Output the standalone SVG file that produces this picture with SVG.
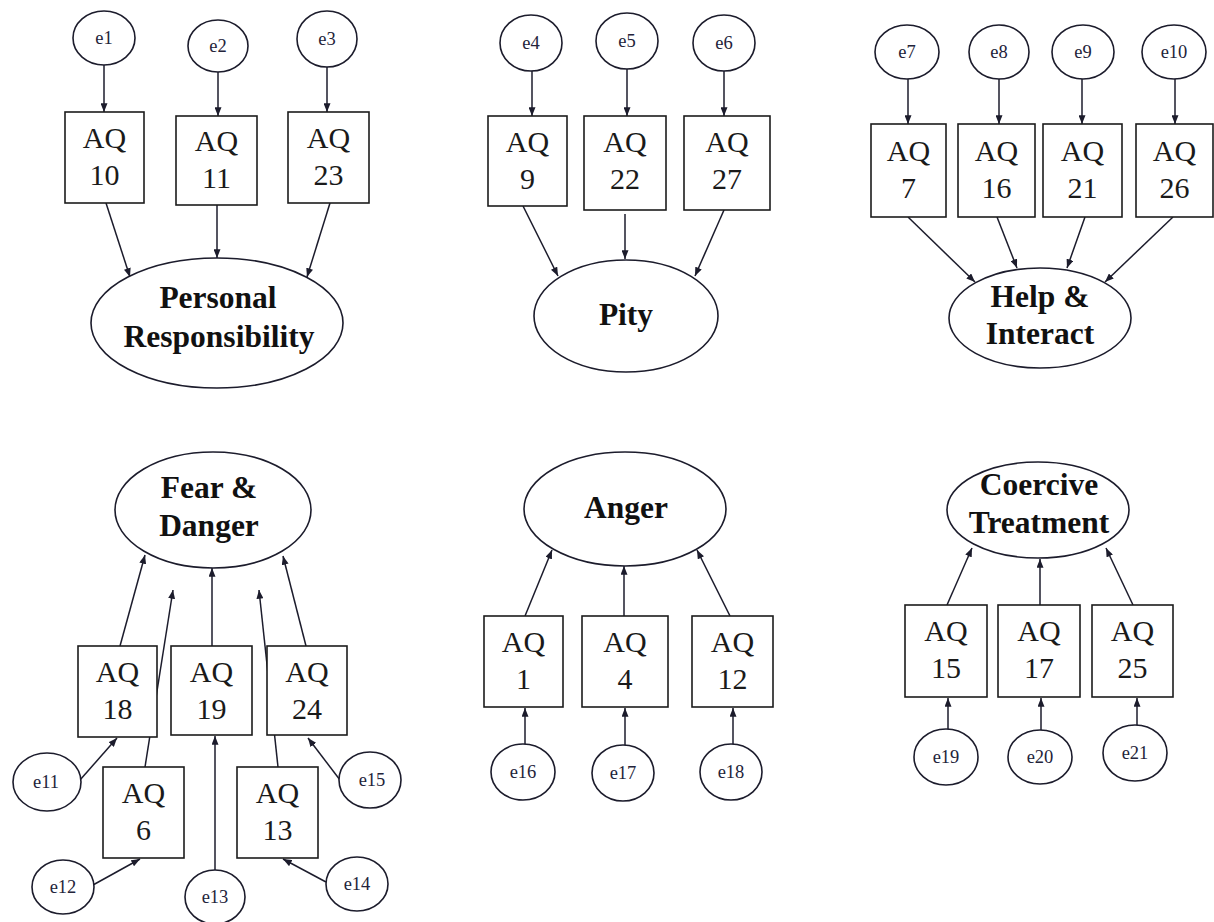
<svg xmlns="http://www.w3.org/2000/svg" width="1214" height="922" viewBox="0 0 1214 922">
<style>
.bg{fill:#ffffff}
.e{fill:#ffffff;stroke:#1c1c2c;stroke-width:1.6}
.box{fill:#ffffff;stroke:#1c1c1c;stroke-width:1.6}
.lat{fill:#ffffff;stroke:#1c1c2c;stroke-width:1.6}
.et{font-family:"Liberation Serif","Times New Roman",serif;font-size:18.5px;fill:#23233a;text-anchor:middle}
.aq{font-family:"Liberation Serif","Times New Roman",serif;font-size:30px;fill:#1a1a1a;text-anchor:middle}
.lt{font-family:"Liberation Serif","Times New Roman",serif;font-size:31.5px;font-weight:bold;fill:#111111;text-anchor:middle}
.c{stroke:#1c1c2c;stroke-width:1.5;fill:none;marker-end:url(#ah)}
</style>
<defs>
<marker id="ah" viewBox="0 0 10 8" refX="10" refY="4" markerWidth="9" markerHeight="7" markerUnits="userSpaceOnUse" orient="auto">
<path d="M0,0 L10,4 L0,8 z" fill="#1c1c2c"/>
</marker>
</defs>
<rect class="bg" x="0" y="0" width="1214" height="922"/>

<g id="connectors">
<!-- Personal Responsibility -->
<line class="c" x1="104" y1="65" x2="104" y2="112"/>
<line class="c" x1="218" y1="72" x2="218" y2="116"/>
<line class="c" x1="327" y1="67" x2="327" y2="112"/>
<line class="c" x1="106" y1="203" x2="130" y2="277"/>
<line class="c" x1="217" y1="205" x2="217" y2="258"/>
<line class="c" x1="330" y1="203" x2="307" y2="277"/>
<!-- Pity -->
<line class="c" x1="532" y1="71" x2="532" y2="116"/>
<line class="c" x1="627" y1="69" x2="627" y2="116"/>
<line class="c" x1="724" y1="71" x2="724" y2="116"/>
<line class="c" x1="523" y1="206" x2="558" y2="276"/>
<line class="c" x1="625" y1="214" x2="625" y2="259"/>
<line class="c" x1="724" y1="210" x2="695" y2="276"/>
<!-- Help & Interact -->
<line class="c" x1="908" y1="79" x2="908" y2="124"/>
<line class="c" x1="999" y1="79" x2="999" y2="124"/>
<line class="c" x1="1082" y1="79" x2="1082" y2="124"/>
<line class="c" x1="1175" y1="79" x2="1175" y2="124"/>
<line class="c" x1="908" y1="217" x2="975" y2="282"/>
<line class="c" x1="997" y1="217" x2="1017" y2="268"/>
<line class="c" x1="1085" y1="217" x2="1067" y2="268"/>
<line class="c" x1="1173" y1="217" x2="1105" y2="282"/>
<!-- Fear & Danger -->
<line class="c" x1="120" y1="646" x2="145" y2="555"/>
<line class="c" x1="145" y1="767" x2="173" y2="590"/>
<line class="c" x1="212" y1="646" x2="212" y2="568"/>
<line class="c" x1="278" y1="767" x2="259" y2="590"/>
<line class="c" x1="306" y1="646" x2="283" y2="556"/>
<line class="c" x1="80" y1="780" x2="117" y2="738"/>
<line class="c" x1="340" y1="780" x2="308" y2="738"/>
<line class="c" x1="93" y1="885" x2="140" y2="859"/>
<line class="c" x1="215" y1="870" x2="215" y2="736"/>
<line class="c" x1="326" y1="882" x2="283" y2="859"/>
<!-- Anger -->
<line class="c" x1="525" y1="616" x2="552" y2="550"/>
<line class="c" x1="624" y1="616" x2="624" y2="566"/>
<line class="c" x1="730" y1="616" x2="697" y2="550"/>
<line class="c" x1="525" y1="744" x2="525" y2="708"/>
<line class="c" x1="625" y1="745" x2="625" y2="708"/>
<line class="c" x1="733" y1="744" x2="733" y2="708"/>
<!-- Coercive Treatment -->
<line class="c" x1="947" y1="605" x2="972" y2="548"/>
<line class="c" x1="1040" y1="605" x2="1040" y2="559"/>
<line class="c" x1="1133" y1="605" x2="1106" y2="548"/>
<line class="c" x1="948" y1="729" x2="948" y2="698"/>
<line class="c" x1="1041" y1="730" x2="1041" y2="698"/>
<line class="c" x1="1137" y1="725" x2="1137" y2="698"/>
</g>

<!-- Personal Responsibility panel -->
<g id="e1"><ellipse class="e" cx="104" cy="38" rx="31" ry="27"/><text class="et" x="104" y="44">e1</text></g>
<g id="e2"><ellipse class="e" cx="218" cy="46" rx="30" ry="26"/><text class="et" x="218" y="52">e2</text></g>
<g id="e3"><ellipse class="e" cx="327" cy="39" rx="30" ry="28"/><text class="et" x="327" y="45">e3</text></g>
<g id="aq10"><rect class="box" x="65" y="112" width="79" height="91"/><text class="aq" x="104.5" y="148">AQ</text><text class="aq" x="104.5" y="185">10</text></g>
<g id="aq11"><rect class="box" x="176" y="116" width="81" height="89"/><text class="aq" x="216.5" y="151">AQ</text><text class="aq" x="216.5" y="188">11</text></g>
<g id="aq23"><rect class="box" x="288" y="112" width="81" height="91"/><text class="aq" x="328.5" y="148">AQ</text><text class="aq" x="328.5" y="185">23</text></g>
<g id="personal-responsibility"><ellipse class="lat" cx="217" cy="323" rx="126" ry="65"/><text class="lt" x="218" y="308">Personal</text><text class="lt" x="219" y="347">Responsibility</text></g>

<!-- Pity panel -->
<g id="e4"><ellipse class="e" cx="531" cy="43" rx="31" ry="28"/><text class="et" x="531" y="49">e4</text></g>
<g id="e5"><ellipse class="e" cx="627" cy="41" rx="31" ry="28"/><text class="et" x="627" y="47">e5</text></g>
<g id="e6"><ellipse class="e" cx="724" cy="43" rx="31" ry="28"/><text class="et" x="724" y="49">e6</text></g>
<g id="aq9"><rect class="box" x="488" y="116" width="79" height="90"/><text class="aq" x="527.5" y="152">AQ</text><text class="aq" x="527.5" y="189">9</text></g>
<g id="aq22"><rect class="box" x="584" y="116" width="82" height="94"/><text class="aq" x="625" y="152">AQ</text><text class="aq" x="625" y="189">22</text></g>
<g id="aq27"><rect class="box" x="684" y="116" width="86" height="94"/><text class="aq" x="727" y="152">AQ</text><text class="aq" x="727" y="189">27</text></g>
<g id="pity"><ellipse class="lat" cx="626" cy="316" rx="92" ry="56"/><text class="lt" x="626" y="325">Pity</text></g>

<!-- Help & Interact panel -->
<g id="e7"><ellipse class="e" cx="907" cy="52" rx="32" ry="27"/><text class="et" x="907" y="58">e7</text></g>
<g id="e8"><ellipse class="e" cx="999" cy="52" rx="30" ry="27"/><text class="et" x="999" y="58">e8</text></g>
<g id="e9"><ellipse class="e" cx="1083" cy="52" rx="31" ry="27"/><text class="et" x="1083" y="58">e9</text></g>
<g id="e10"><ellipse class="e" cx="1174" cy="52" rx="32" ry="27"/><text class="et" x="1174" y="58">e10</text></g>
<g id="aq7"><rect class="box" x="871" y="124" width="75" height="93"/><text class="aq" x="908.5" y="161">AQ</text><text class="aq" x="908.5" y="198">7</text></g>
<g id="aq16"><rect class="box" x="958" y="124" width="77" height="93"/><text class="aq" x="996.5" y="161">AQ</text><text class="aq" x="996.5" y="198">16</text></g>
<g id="aq21"><rect class="box" x="1043" y="124" width="79" height="93"/><text class="aq" x="1082.5" y="161">AQ</text><text class="aq" x="1082.5" y="198">21</text></g>
<g id="aq26"><rect class="box" x="1136" y="124" width="77" height="93"/><text class="aq" x="1174.5" y="161">AQ</text><text class="aq" x="1174.5" y="198">26</text></g>
<g id="help-interact"><ellipse class="lat" cx="1040" cy="318" rx="91" ry="50"/><text class="lt" x="1040" y="307">Help &amp;</text><text class="lt" x="1040" y="344">Interact</text></g>

<!-- Fear & Danger panel -->
<g id="fear-danger"><ellipse class="lat" cx="213" cy="510" rx="98" ry="58"/><text class="lt" x="209" y="498">Fear &amp;</text><text class="lt" x="209" y="536">Danger</text></g>
<g id="aq18"><rect class="box" x="78" y="646" width="79" height="91"/><text class="aq" x="117.5" y="682">AQ</text><text class="aq" x="117.5" y="719">18</text></g>
<g id="aq19"><rect class="box" x="171" y="646" width="81" height="89"/><text class="aq" x="211.5" y="682">AQ</text><text class="aq" x="211.5" y="719">19</text></g>
<g id="aq24"><rect class="box" x="267" y="646" width="80" height="89"/><text class="aq" x="307" y="682">AQ</text><text class="aq" x="307" y="719">24</text></g>
<g id="aq6"><rect class="box" x="103" y="767" width="81" height="91"/><text class="aq" x="143.5" y="803">AQ</text><text class="aq" x="143.5" y="840">6</text></g>
<g id="aq13"><rect class="box" x="237" y="767" width="81" height="91"/><text class="aq" x="277.5" y="803">AQ</text><text class="aq" x="277.5" y="840">13</text></g>
<g id="e11"><ellipse class="e" cx="47" cy="782" rx="34" ry="29"/><text class="et" x="46" y="788">e11</text></g>
<g id="e15"><ellipse class="e" cx="370" cy="780" rx="31" ry="28"/><text class="et" x="372" y="786">e15</text></g>
<g id="e12"><ellipse class="e" cx="63" cy="887" rx="31" ry="27"/><text class="et" x="63" y="893">e12</text></g>
<g id="e13"><ellipse class="e" cx="215" cy="897" rx="30" ry="27"/><text class="et" x="215" y="903">e13</text></g>
<g id="e14"><ellipse class="e" cx="357" cy="884" rx="31" ry="27"/><text class="et" x="357" y="890">e14</text></g>

<!-- Anger panel -->
<g id="anger"><ellipse class="lat" cx="625" cy="509" rx="101" ry="57"/><text class="lt" x="626" y="518">Anger</text></g>
<g id="aq1"><rect class="box" x="484" y="616" width="79" height="91"/><text class="aq" x="523.5" y="652">AQ</text><text class="aq" x="523.5" y="689">1</text></g>
<g id="aq4"><rect class="box" x="582" y="616" width="86" height="91"/><text class="aq" x="625" y="652">AQ</text><text class="aq" x="625" y="689">4</text></g>
<g id="aq12"><rect class="box" x="692" y="616" width="81" height="91"/><text class="aq" x="732.5" y="652">AQ</text><text class="aq" x="732.5" y="689">12</text></g>
<g id="e16"><ellipse class="e" cx="523" cy="772" rx="32" ry="28"/><text class="et" x="523" y="778">e16</text></g>
<g id="e17"><ellipse class="e" cx="623" cy="773" rx="31" ry="28"/><text class="et" x="623" y="779">e17</text></g>
<g id="e18"><ellipse class="e" cx="731" cy="772" rx="31" ry="28"/><text class="et" x="731" y="778">e18</text></g>

<!-- Coercive Treatment panel -->
<g id="coercive-treatment"><ellipse class="lat" cx="1038" cy="510" rx="91" ry="48"/><text class="lt" x="1039" y="495">Coercive</text><text class="lt" x="1039" y="533">Treatment</text></g>
<g id="aq15"><rect class="box" x="905" y="605" width="82" height="92"/><text class="aq" x="946" y="641">AQ</text><text class="aq" x="946" y="678">15</text></g>
<g id="aq17"><rect class="box" x="998" y="605" width="82" height="92"/><text class="aq" x="1039" y="641">AQ</text><text class="aq" x="1039" y="678">17</text></g>
<g id="aq25"><rect class="box" x="1092" y="605" width="81" height="92"/><text class="aq" x="1132.5" y="641">AQ</text><text class="aq" x="1132.5" y="678">25</text></g>
<g id="e19"><ellipse class="e" cx="946" cy="757" rx="32" ry="28"/><text class="et" x="946" y="763">e19</text></g>
<g id="e20"><ellipse class="e" cx="1040" cy="757" rx="32" ry="27"/><text class="et" x="1040" y="763">e20</text></g>
<g id="e21"><ellipse class="e" cx="1135" cy="753" rx="32" ry="28"/><text class="et" x="1135" y="759">e21</text></g>
</svg>
